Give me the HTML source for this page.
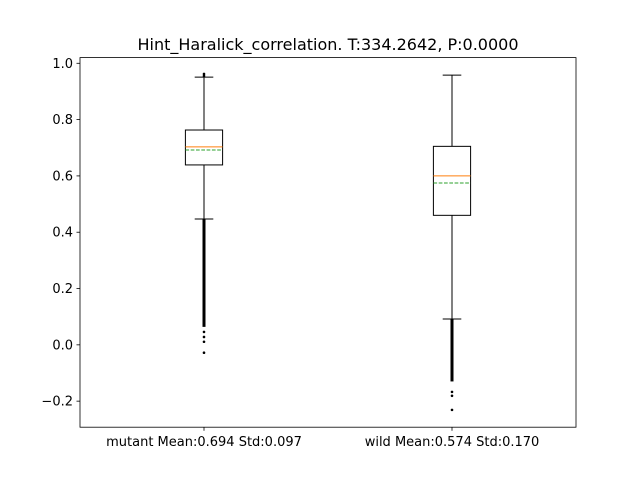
<!DOCTYPE html>
<html><head><meta charset="utf-8"><style>
body{margin:0;background:#fff;font-family:"Liberation Sans","DejaVu Sans",sans-serif}
</style></head><body>
<svg id="chart" width="640" height="480" xmlns="http://www.w3.org/2000/svg" font-family="DejaVu Sans, Liberation Sans, sans-serif"></svg>
<script>
const categories = ["mutant Mean:0.694 Std:0.097", "wild Mean:0.574 Std:0.170"];
const q1 = [0.639, 0.460];
const q3 = [0.763, 0.705];
const medians = [0.703, 0.600];
const means = [0.692, 0.575];
const whiskerLow = [0.447, 0.092];
const whiskerHigh = [0.951, 0.958];
const denseFlierLow = [0.064, -0.130];
const denseFlierHigh = [0.447, 0.092];
const sparseFliers = [[0.046, 0.028, 0.011, -0.028, 0.955, 0.962], [-0.167, -0.181, -0.231]];
const yTicks = [-0.2, 0.0, 0.2, 0.4, 0.6, 0.8, 1.0];
const yTickLabels = ["\u22120.2", "0.0", "0.2", "0.4", "0.6", "0.8", "1.0"];

const svg = document.getElementById('chart');
const NS = "http://www.w3.org/2000/svg";
const L = 80, R = 576, T = 57.6, B = 427.2;
const yMin = -0.2925, yMax = 1.0202;
const y = v => B - (v - yMin) / (yMax - yMin) * (B - T);
const x = i => L + (i + 1 - 0.5) / 2 * (R - L);
function mk(tag, attrs, parent) {
  const e = document.createElementNS(NS, tag);
  for (const k in attrs) e.setAttribute(k, attrs[k]);
  (parent || svg).appendChild(e);
  return e;
}
const title = mk('text', {x: 328, y: 50, 'text-anchor': 'middle', 'font-size': 16, fill: '#000'});


title.textContent = "Hint_Haralick_correlation. T:334.2642, P:0.0000";

yTicks.forEach((t, i) => {
  const g = mk('g', {});
  
  
  mk('line', {x1: L - 3.5, x2: L, y1: y(t), y2: y(t), stroke: '#000', 'stroke-width': 0.8}, g);
  const tx = mk('text', {x: L - 7, y: y(t) + 4.5, 'text-anchor': 'end', 'font-size': 13, fill: '#000'}, g);
  tx.textContent = yTickLabels[i];
});

categories.forEach((c, i) => {
  const cx = x(i), hw = 18.6;
  const g = mk('g', {});
  
  
  // dense fliers
  mk('line', {x1: cx, x2: cx, y1: y(denseFlierLow[i]), y2: y(denseFlierHigh[i]), stroke: '#000', 'stroke-width': 3}, g);
  sparseFliers[i].forEach(v => {
    const p = mk('circle', {cx: cx, cy: y(v), r: 1.3, fill: '#000'}, g);
    
    
  });
  mk('line', {x1: cx, x2: cx, y1: y(q3[i]), y2: y(whiskerHigh[i]), stroke: '#000', 'stroke-width': 1}, g);
  mk('line', {x1: cx, x2: cx, y1: y(q1[i]), y2: y(whiskerLow[i]), stroke: '#000', 'stroke-width': 1}, g);
  mk('line', {x1: cx - 9.3, x2: cx + 9.3, y1: y(whiskerHigh[i]), y2: y(whiskerHigh[i]), stroke: '#000', 'stroke-width': 1}, g);
  mk('line', {x1: cx - 9.3, x2: cx + 9.3, y1: y(whiskerLow[i]), y2: y(whiskerLow[i]), stroke: '#000', 'stroke-width': 1}, g);
  mk('rect', {x: cx - hw, y: y(q3[i]), width: 2 * hw, height: y(q1[i]) - y(q3[i]), fill: 'none', stroke: '#000', 'stroke-width': 1}, g);
  mk('line', {x1: cx - hw, x2: cx + hw, y1: y(medians[i]), y2: y(medians[i]), stroke: '#ff7f0e', 'stroke-width': 1}, g);
  mk('line', {x1: cx - hw, x2: cx + hw, y1: y(means[i]), y2: y(means[i]), stroke: '#2ca02c', 'stroke-width': 1, 'stroke-dasharray': '3.7,1.6'}, g);
  mk('line', {x1: cx, x2: cx, y1: B, y2: B + 3.5, stroke: '#000', 'stroke-width': 0.8}, g);
  const lab = mk('text', {x: cx, y: B + 19, 'text-anchor': 'middle', 'font-size': 13, fill: '#000'});
  
  
  lab.textContent = c;
});

const frame = mk('rect', {x: L, y: T, width: R - L, height: B - T, fill: 'none', stroke: '#000', 'stroke-width': 0.8});


</script>
</body></html>
